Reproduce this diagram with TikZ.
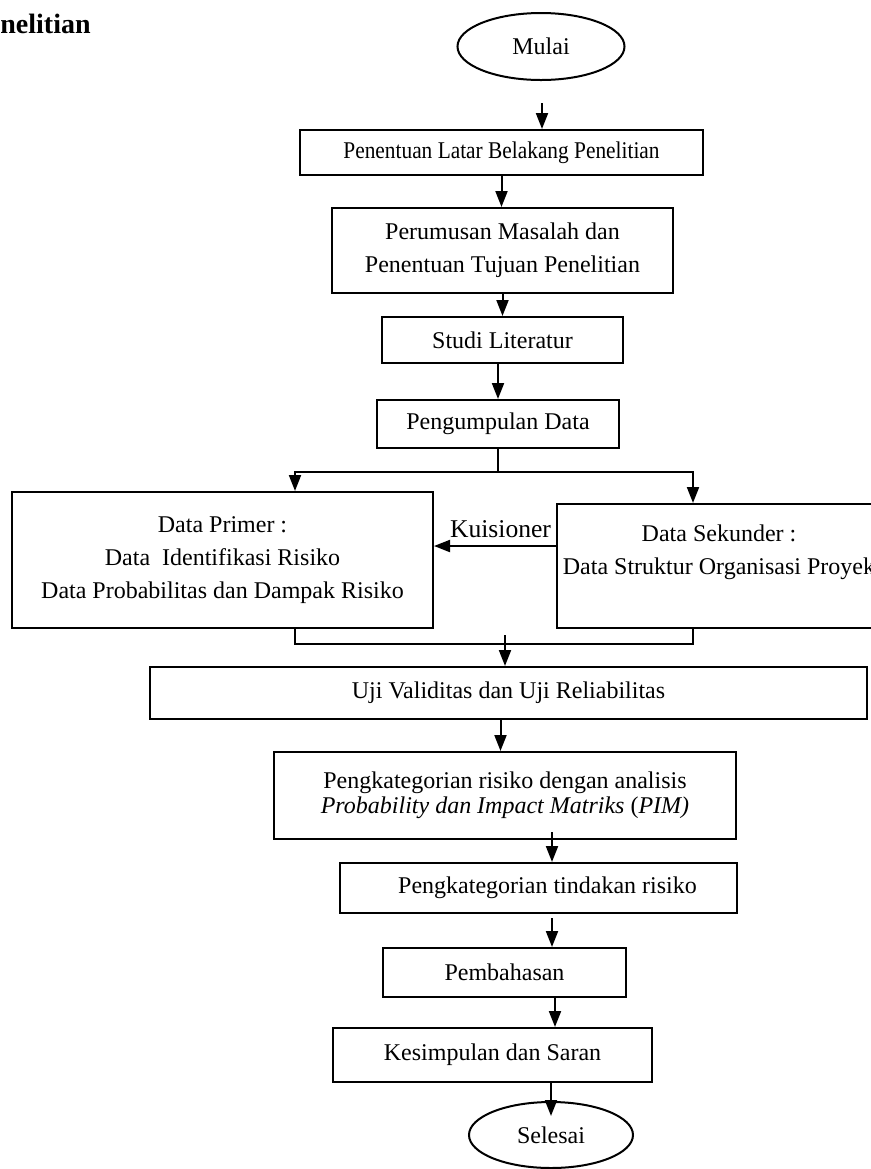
\documentclass[tikz,border=0pt]{standalone}
\usepackage{fontspec}
\setmainfont{Liberation Serif}
\newfontfamily\narrowserif{Liberation Serif}[FakeStretch=0.89]
\usetikzlibrary{shapes.geometric,arrows.meta}
\tikzset{%
	block/.style    = {draw, line width=1pt, rectangle, align=center, inner sep=0pt,
		font=\fontsize{12}{16.5}\selectfont},
	terminal/.style = {draw, line width=1pt, ellipse, inner sep=0pt,
		font=\fontsize{12}{14}\selectfont}, % Mulai / Selesai
	link/.style     = {line width=1pt}, % plain line
	flow/.style     = {line width=1pt, -{Triangle[width=6pt,length=8pt]}} % arrow
}

\begin{document}
\begin{tikzpicture}[x=0.5pt, y=-0.5pt]
	\useasboundingbox (0,0) rectangle (871,1169);
	\node[anchor=base west, inner sep=0pt, font=\fontsize{14}{16}\selectfont\bfseries] (judul) at (0,33) {nelitian};

	\node[terminal, minimum width=83.5pt, minimum height=33.5pt]  (mulai)    at (541,46.5)    {Mulai};
	\node[block, minimum width=201.5pt, minimum height=22.5pt,
		font=\narrowserif\fontsize{12}{14}\selectfont]             (latar)    at (501.5,152.5) {Penentuan Latar Belakang Penelitian};
	\node[block, minimum width=170.5pt, minimum height=42.5pt]   (rumusan)  at (502.5,250.5) {Perumusan Masalah dan\\Penentuan Tujuan Penelitian};
	\node[block, minimum width=120.5pt, minimum height=23pt]     (studi)    at (502.5,340)   {Studi Literatur};
	\node[block, minimum width=121pt,   minimum height=24pt]     (kumpul)   at (498,424)     {Pengumpulan Data};
	\node[block, minimum width=210.5pt, minimum height=68pt]     (primer)   at (222.5,560)   {Data Primer :\\Data~~Identifikasi Risiko\\Data Probabilitas dan Dampak Risiko};
	\node[block, minimum width=162pt,   minimum height=62pt]     (sekunder) at (719,566)     {Data Sekunder :\\Data Struktur Organisasi Proyek\\\mbox{}};
	\node[block, minimum width=358.5pt, minimum height=26pt]     (uji)      at (508.5,693)   {Uji Validitas dan Uji Reliabilitas};
	\node[block, minimum width=231pt,   minimum height=43.5pt,
		font=\fontsize{12}{12.5}\selectfont]                       (pim)      at (505,795.5)   {Pengkategorian risiko dengan analisis\\\textit{Probability dan Impact Matriks} (\textit{PIM)}};
	\node[block, minimum width=198.5pt, minimum height=25pt]     (tindakan) at (538.5,888)   {\hspace{9pt}Pengkategorian tindakan risiko};
	\node[block, minimum width=121.5pt, minimum height=24.5pt]   (bahas)    at (504.5,972.5) {Pembahasan};
	\node[block, minimum width=159.5pt, minimum height=27pt]     (simpul)   at (492.5,1055)  {Kesimpulan dan Saran};
	\node[terminal, minimum width=82pt, minimum height=33pt]     (selesai)  at (551,1135)    {Selesai};

	\coordinate (m0)    at (542,103);
	\coordinate (split) at (498,472);
	\coordinate (u0)    at (505,635);

	\draw[flow] (m0) -- (m0 |- latar.north);
	\draw[flow] (latar.south) -- (latar.south |- rumusan.north);
	\draw[flow] (rumusan.south) -- (rumusan.south |- studi.north);
	\draw[flow] (kumpul.north |- studi.south) -- (kumpul.north);
	\draw[link] (kumpul.south) -- (split);
	\draw[flow] (split) -| ([xshift=36.25pt]primer.north);
	\draw[flow] (split) -| ([xshift=-13pt]sekunder.north);
	\draw[flow] ([yshift=10pt]sekunder.west) -- ([yshift=10pt]sekunder.west -| primer.east)
		node[pos=0, anchor=base east, inner sep=0pt, xshift=-2pt, yshift=4.5pt,
			font=\fontsize{12.8}{14}\selectfont] {Kuisioner};
	\draw[link] ([xshift=36.25pt]primer.south) -- ++(0,-7.5pt) -| ([xshift=-13pt]sekunder.south);
	\draw[flow] (u0) -- (u0 |- uji.north);
	\draw[flow] ([xshift=-4pt]uji.south) -- ([xshift=-4pt]uji.south |- pim.north);
	\draw[flow] ([xshift=6.75pt,yshift=4pt]tindakan.north |- pim.south) -- ([xshift=6.75pt]tindakan.north);
	\draw[flow] ([xshift=6.75pt,yshift=-2pt]tindakan.south) -- ([xshift=6.75pt]tindakan.south |- bahas.north);
	\draw[flow] ([xshift=25.25pt]bahas.south) -- ([xshift=25.25pt]bahas.south |- simpul.north);
	\draw[flow] (simpul.south -| selesai.north) -- ([yshift=-7.5pt]selesai.north);
\end{tikzpicture}
\end{document}
